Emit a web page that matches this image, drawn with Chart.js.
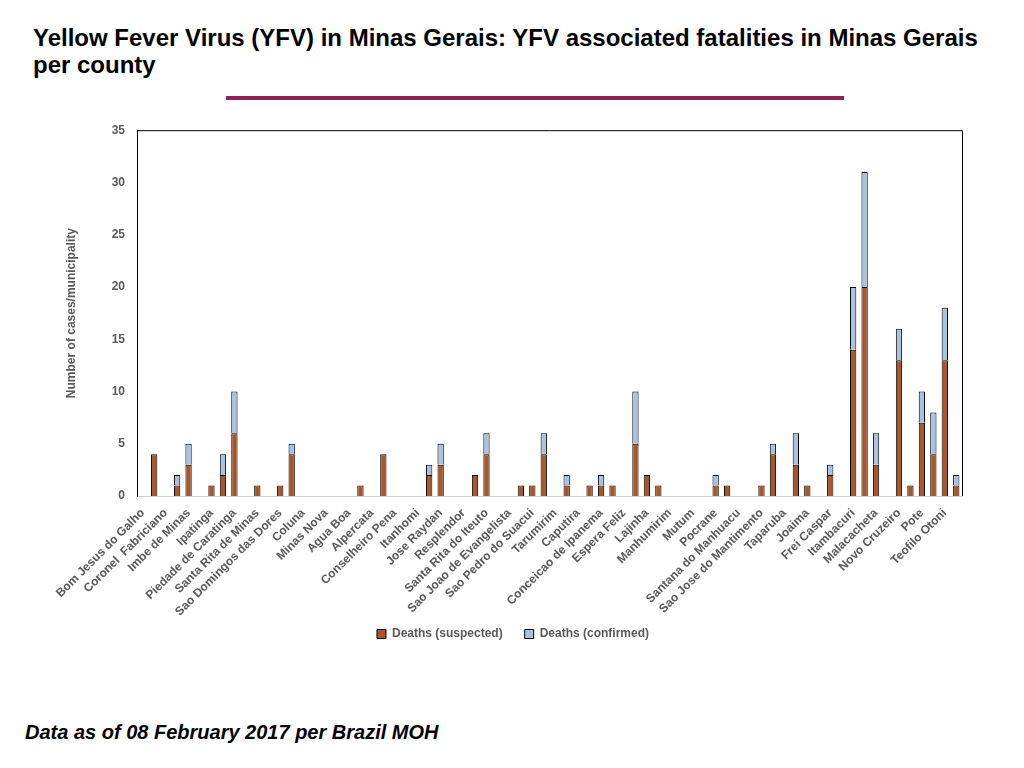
<!DOCTYPE html>
<html>
<head>
<meta charset="utf-8">
<script src="https://cdn.jsdelivr.net/npm/chart.js@4.4.1/dist/chart.umd.min.js"></script>
<style>
  body { margin: 0; background: #fff; width: 1024px; height: 768px; position: relative; overflow: hidden; font-family: "Liberation Sans", Arial, sans-serif; }
  #title { position: absolute; left: 33px; top: 24px; width: 980px; font-size: 24px; font-weight: bold; line-height: 27px; color: #000; }
  #rule { position: absolute; left: 226px; top: 96px; width: 618px; height: 4px; background: #8e2157; }
  #wrap { position: absolute; left: 0; top: 111px; width: 1000px; height: 539px; }
  #foot { position: absolute; left: 25px; top: 721px; font-size: 20px; font-weight: bold; font-style: italic; color: #000; }
</style>
</head>
<body>
<div id="title">Yellow Fever Virus (YFV) in Minas Gerais: YFV associated fatalities in Minas Gerais<br>per county</div>
<div id="rule"></div>
<div id="wrap"><canvas id="chart"></canvas></div>
<div id="foot">Data as of 08 February 2017 per Brazil MOH</div>
<script>
// only every other municipality name is printed on the axis, the rest are unknown
const counties = [
  'Bom Jesus do Galho', '', 'Coronel  Fabriciano', '', 'Imbe de Minas', '', 'Ipatinga', '',
  'Piedade de Caratinga', '', 'Santa Rita de Minas', '', 'Sao Domingos das Dores', '', 'Coluna', '',
  'Minas Nova', '', 'Agua Boa', '', 'Alpercata', '', 'Conselheiro Pena', '', 'Itanhomi', '',
  'Jose Raydan', '', 'Resplendor', '', 'Santa Rita do Iteuto', '', 'Sao Joao de Evangelista', '',
  'Sao Pedro do Suacui', '', 'Tarumirim', '', 'Caputira', '', 'Conceicao de Ipanema', '',
  'Espera Feliz', '', 'Lajinha', '', 'Manhumirim', '', 'Mutum', '', 'Pocrane', '',
  'Santana do Manhuacu', '', 'Sao Jose do Mantimento', '', 'Taparuba', '', 'Joaima', '',
  'Frei Caspar', '', 'Itambacuri', '', 'Malacacheta', '', 'Novo Cruzeiro', '', 'Pote', '',
  'Teofilo Otoni', ''
];

const suspected = [
  0, 4, 0, 1, 3, 0, 1, 2, 6, 0, 1, 0, 1, 4, 0, 0, 0, 0, 0, 1, 0, 4, 0, 0,
  0, 2, 3, 0, 0, 2, 4, 0, 0, 1, 1, 4, 0, 1, 0, 1, 1, 1, 0, 5, 2, 1, 0, 0,
  0, 0, 1, 1, 0, 0, 1, 4, 0, 3, 1, 0, 2, 0, 14, 20, 3, 0, 13, 1, 7, 4, 13, 1
];

const confirmed = [
  0, 0, 0, 1, 2, 0, 0, 2, 4, 0, 0, 0, 0, 1, 0, 0, 0, 0, 0, 0, 0, 0, 0, 0,
  0, 1, 2, 0, 0, 0, 2, 0, 0, 0, 0, 2, 0, 1, 0, 0, 1, 0, 0, 5, 0, 0, 0, 0,
  0, 0, 1, 0, 0, 0, 0, 1, 0, 3, 0, 0, 1, 0, 6, 11, 3, 0, 3, 0, 3, 4, 5, 1
];

const yTicks = [0, 5, 10, 15, 20, 25, 30, 35];

const labelFont = { family: '"Liberation Sans", Arial, sans-serif', size: 12, weight: 'bold' };
const grey = '#595959';

// top and right edges of the plot frame
const frame = {
  id: 'frame',
  afterDraw(chart) {
    const { ctx, chartArea: a } = chart;
    ctx.save();
    ctx.strokeStyle = '#000';
    ctx.lineWidth = 1;
    ctx.beginPath();
    ctx.moveTo(a.left, a.top + 0.5);
    ctx.lineTo(a.right + 0.5, a.top + 0.5);
    ctx.lineTo(a.right + 0.5, a.bottom);
    ctx.stroke();
    ctx.restore();
  }
};

new Chart(document.getElementById('chart'), {
  type: 'bar',
  data: {
    labels: counties,
    datasets: [
      {
        label: 'Deaths (suspected)',
        data: suspected,
        backgroundColor: '#a9572a',
        borderColor: '#000',
        borderWidth: 1,
        barPercentage: 0.55,
        categoryPercentage: 1
      },
      {
        label: 'Deaths (confirmed)',
        data: confirmed,
        backgroundColor: '#a9c2df',
        borderColor: '#000',
        borderWidth: 1,
        barPercentage: 0.55,
        categoryPercentage: 1
      }
    ]
  },
  options: {
    responsive: true,
    maintainAspectRatio: false,
    animation: false,
    layout: { padding: { top: 2, right: 38, left: 64, bottom: 0 } },
    scales: {
      x: {
        stacked: true,
        grid: { display: false },
        border: { color: '#d0d0d0' },
        ticks: {
          autoSkip: false,
          minRotation: 45,
          maxRotation: 45,
          padding: 2,
          color: grey,
          font: labelFont
        },
        afterFit(scale) {
          scale.height = 110;
          // long names run below the axis box, into the legend's band
          scale._computeLabelArea = () => undefined;
        }
      },
      y: {
        stacked: true,
        min: 0,
        max: 35,
        grid: { display: false, drawTicks: false },
        border: { color: '#000' },
        afterBuildTicks(scale) { scale.ticks = yTicks.map(v => ({ value: v })); },
        ticks: { padding: 12, color: grey, font: labelFont },
        title: {
          display: true,
          text: 'Number of cases/municipality',
          color: grey,
          font: { family: labelFont.family, size: 12, weight: 'bold' },
          padding: { top: 0, bottom: 0 }
        },
        afterFit(scale) { scale.width = 73; }
      }
    },
    plugins: {
      legend: {
        position: 'bottom',
        labels: {
          boxWidth: 9,
          boxHeight: 9,
          padding: 22,
          color: grey,
          font: labelFont
        }
      },
      tooltip: { enabled: false }
    }
  },
  plugins: [frame]
});
</script>
</body>
</html>
